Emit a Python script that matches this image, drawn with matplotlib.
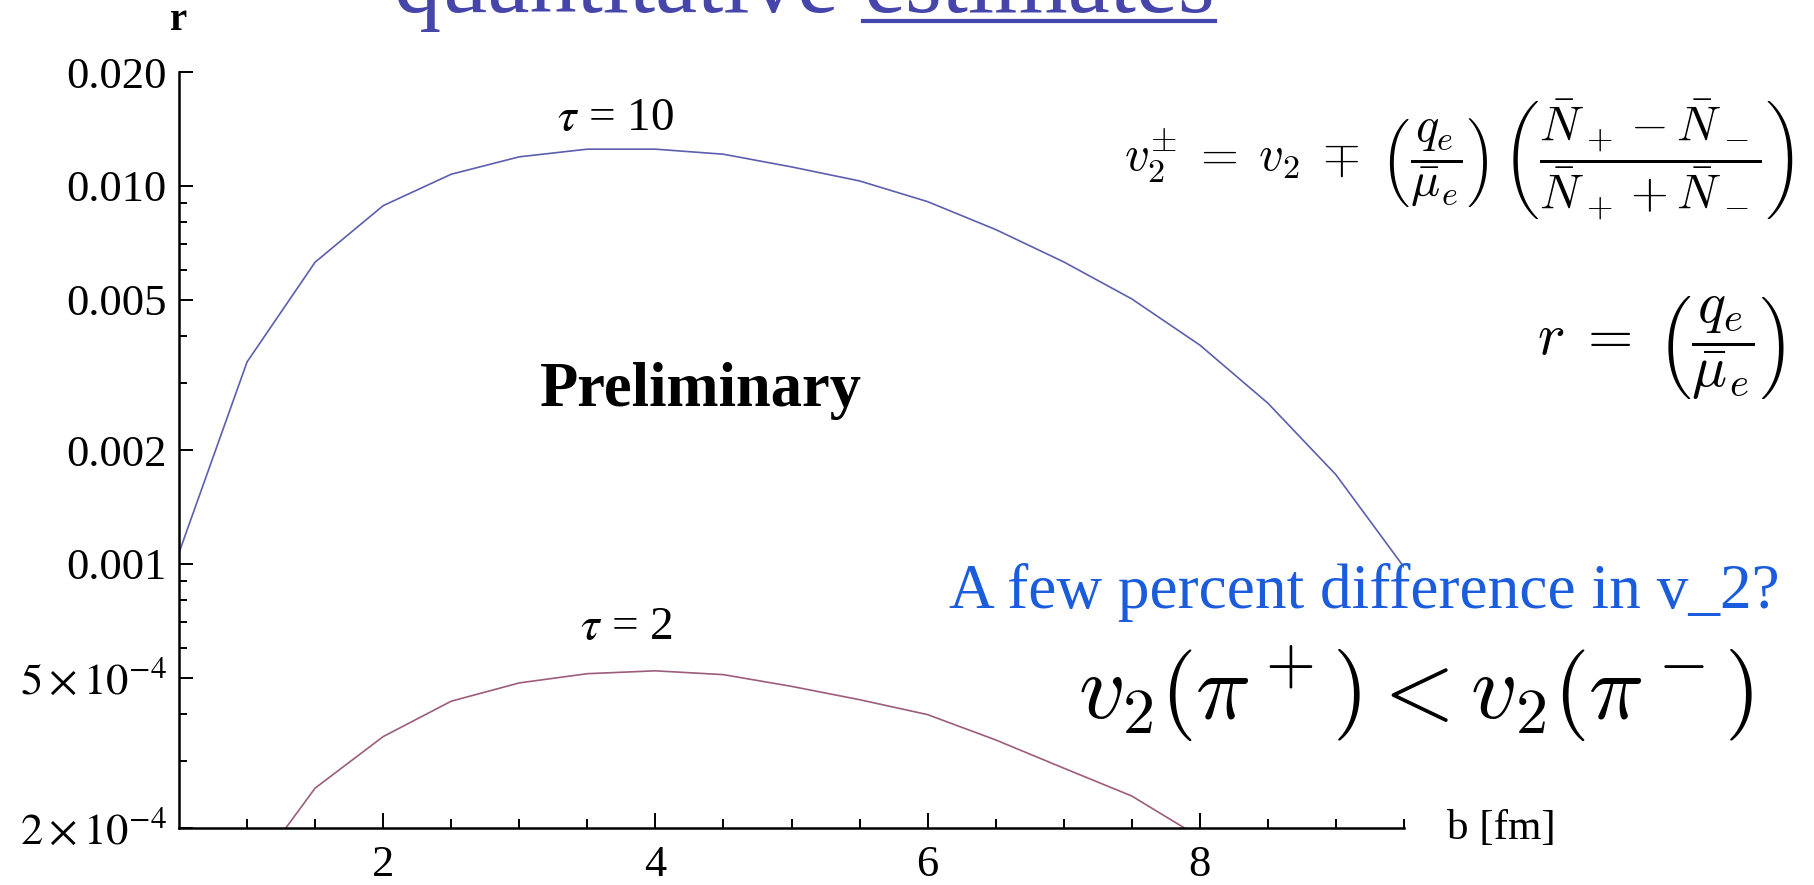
import matplotlib
matplotlib.use("Agg")
import matplotlib.pyplot as plt
from matplotlib.ticker import FixedLocator, FixedFormatter, NullFormatter
from matplotlib.lines import Line2D

plt.rcParams['font.family'] = ['Liberation Serif', 'DejaVu Serif']
plt.rcParams['mathtext.fontset'] = 'stix'

# r(b) for tau = 10 and tau = 2
b_tau10 = [0.5, 1.0, 1.5, 2.0, 2.5, 3.0, 3.5, 4.0, 4.5, 5.0,
           5.5, 6.0, 6.5, 7.0, 7.5, 8.0, 8.5, 9.0, 9.5]
r_tau10 = [0.00107, 0.00342, 0.00628, 0.00886, 0.01073, 0.01193, 0.01250, 0.01250,
           0.01212, 0.01122, 0.01030, 0.00908, 0.00766, 0.00629, 0.00502, 0.00379,
           0.00266, 0.00172, 0.00098]

b_tau2 = [1.0, 1.5, 2.0, 2.5, 3.0, 3.5, 4.0, 4.5, 5.0, 5.5, 6.0, 6.5, 7.0, 7.5, 8.0]
r_tau2 = [1.45e-4, 2.55e-4, 3.49e-4, 4.33e-4, 4.84e-4, 5.12e-4, 5.21e-4, 5.09e-4,
          4.74e-4, 4.37e-4, 3.99e-4, 3.42e-4, 2.88e-4, 2.43e-4, 1.89e-4]

y_major = [0.02, 0.01, 0.005, 0.002, 0.001, 5e-4, 2e-4]
y_labels = ['0.020', '0.010', '0.005', '0.002', '0.001',
            r'$5\times10^{-4}$', r'$2\times10^{-4}$']
y_minor = [0.009, 0.008, 0.007, 0.006, 0.004, 0.003,
           9e-4, 8e-4, 7e-4, 6e-4, 4e-4, 3e-4]
x_major = [2, 4, 6, 8]
x_labels = ['2', '4', '6', '8']
x_minor = [1, 1.5, 2.5, 3, 3.5, 4.5, 5, 5.5, 6.5, 7, 7.5, 8.5, 9, 9.5]

W, H = 1815, 885


def fx(x):
    return x / W


def fy(y):
    return 1 - y / H


fig = plt.figure(figsize=(W / 100, H / 100), dpi=100)
ax = fig.add_axes([fx(179), fy(828), (1404 - 179) / W, (828 - 72) / H])

ax.plot(b_tau10, r_tau10, color='#5b5fae', lw=1.2)
ax.plot(b_tau2, r_tau2, color='#9c5c7e', lw=1.2)

ax.set_yscale('log')
ax.set_xlim(0.5, 9.5)
ax.set_ylim(2e-4, 0.02)

ax.yaxis.set_major_locator(FixedLocator(y_major))
ax.yaxis.set_major_formatter(FixedFormatter(y_labels))
ax.yaxis.set_minor_locator(FixedLocator(y_minor))
ax.yaxis.set_minor_formatter(NullFormatter())
ax.xaxis.set_major_locator(FixedLocator(x_major))
ax.xaxis.set_major_formatter(FixedFormatter(x_labels))
ax.xaxis.set_minor_locator(FixedLocator(x_minor))

for s in ['top', 'right']:
    ax.spines[s].set_visible(False)
for s in ['left', 'bottom']:
    ax.spines[s].set_linewidth(1.8)

ax.tick_params(which='both', direction='in', width=1.4, labelsize=32)
ax.tick_params(axis='x', which='major', length=11, pad=12)
ax.tick_params(axis='x', which='minor', length=6.5)
ax.tick_params(axis='y', which='major', length=10, pad=9)
ax.tick_params(axis='y', which='minor', length=6)

# curve labels and overlay
fig.text(fx(616), fy(119), r'$\tau$ = 10', fontsize=34, ha='center', va='center')
fig.text(fx(626), fy(628), r'$\tau$ = 2', fontsize=34, ha='center', va='center')
fig.text(fx(701), fy(391), 'Preliminary', fontsize=45, fontweight='bold',
         ha='center', va='center')

fig.text(fx(179), fy(21), 'r', fontsize=28, fontweight='bold', ha='center', va='center')
fig.text(fx(1447), fy(829), 'b [fm]', fontsize=31, ha='left', va='center')

# heading, partly cut off by the top edge
title_color = '#4646aa'
fig.text(fx(394), fy(12), 'quantitative', fontsize=68, color=title_color,
         ha='left', va='baseline')
est = fig.text(fx(1215), fy(12), 'estimates', fontsize=68, color=title_color,
               ha='right', va='baseline')
fig.canvas.draw()
bb = est.get_window_extent()
fig.add_artist(Line2D([bb.x0 / W, bb.x1 / W], [fy(21), fy(21)],
                      color=title_color, lw=3, transform=fig.transFigure))

fig.text(fx(1794), fy(160),
         r'$v_2^{\pm} \;=\; v_2 \;\mp\; \left(\dfrac{q_e}{\bar{\mu}_e}\right)\,'
         r'\left(\dfrac{\bar{N}_+ - \bar{N}_-}{\bar{N}_+ + \bar{N}_-}\right)$',
         fontsize=35, math_fontfamily='cm', ha='right', va='center')
fig.text(fx(1785), fy(348), r'$r \;=\; \left(\dfrac{q_e}{\bar{\mu}_e}\right)$',
         fontsize=42, math_fontfamily='cm', ha='right', va='center')

fig.text(fx(1780), fy(593), 'A few percent difference in v_2?', fontsize=45.5,
         color='#1a5cdb', ha='right', va='center')
fig.text(fx(1754), fy(694), r'$v_2(\pi^+) < v_2(\pi^-)$', fontsize=66,
         math_fontfamily='cm', ha='right', va='center')

fig.savefig('out.png', dpi=100)
